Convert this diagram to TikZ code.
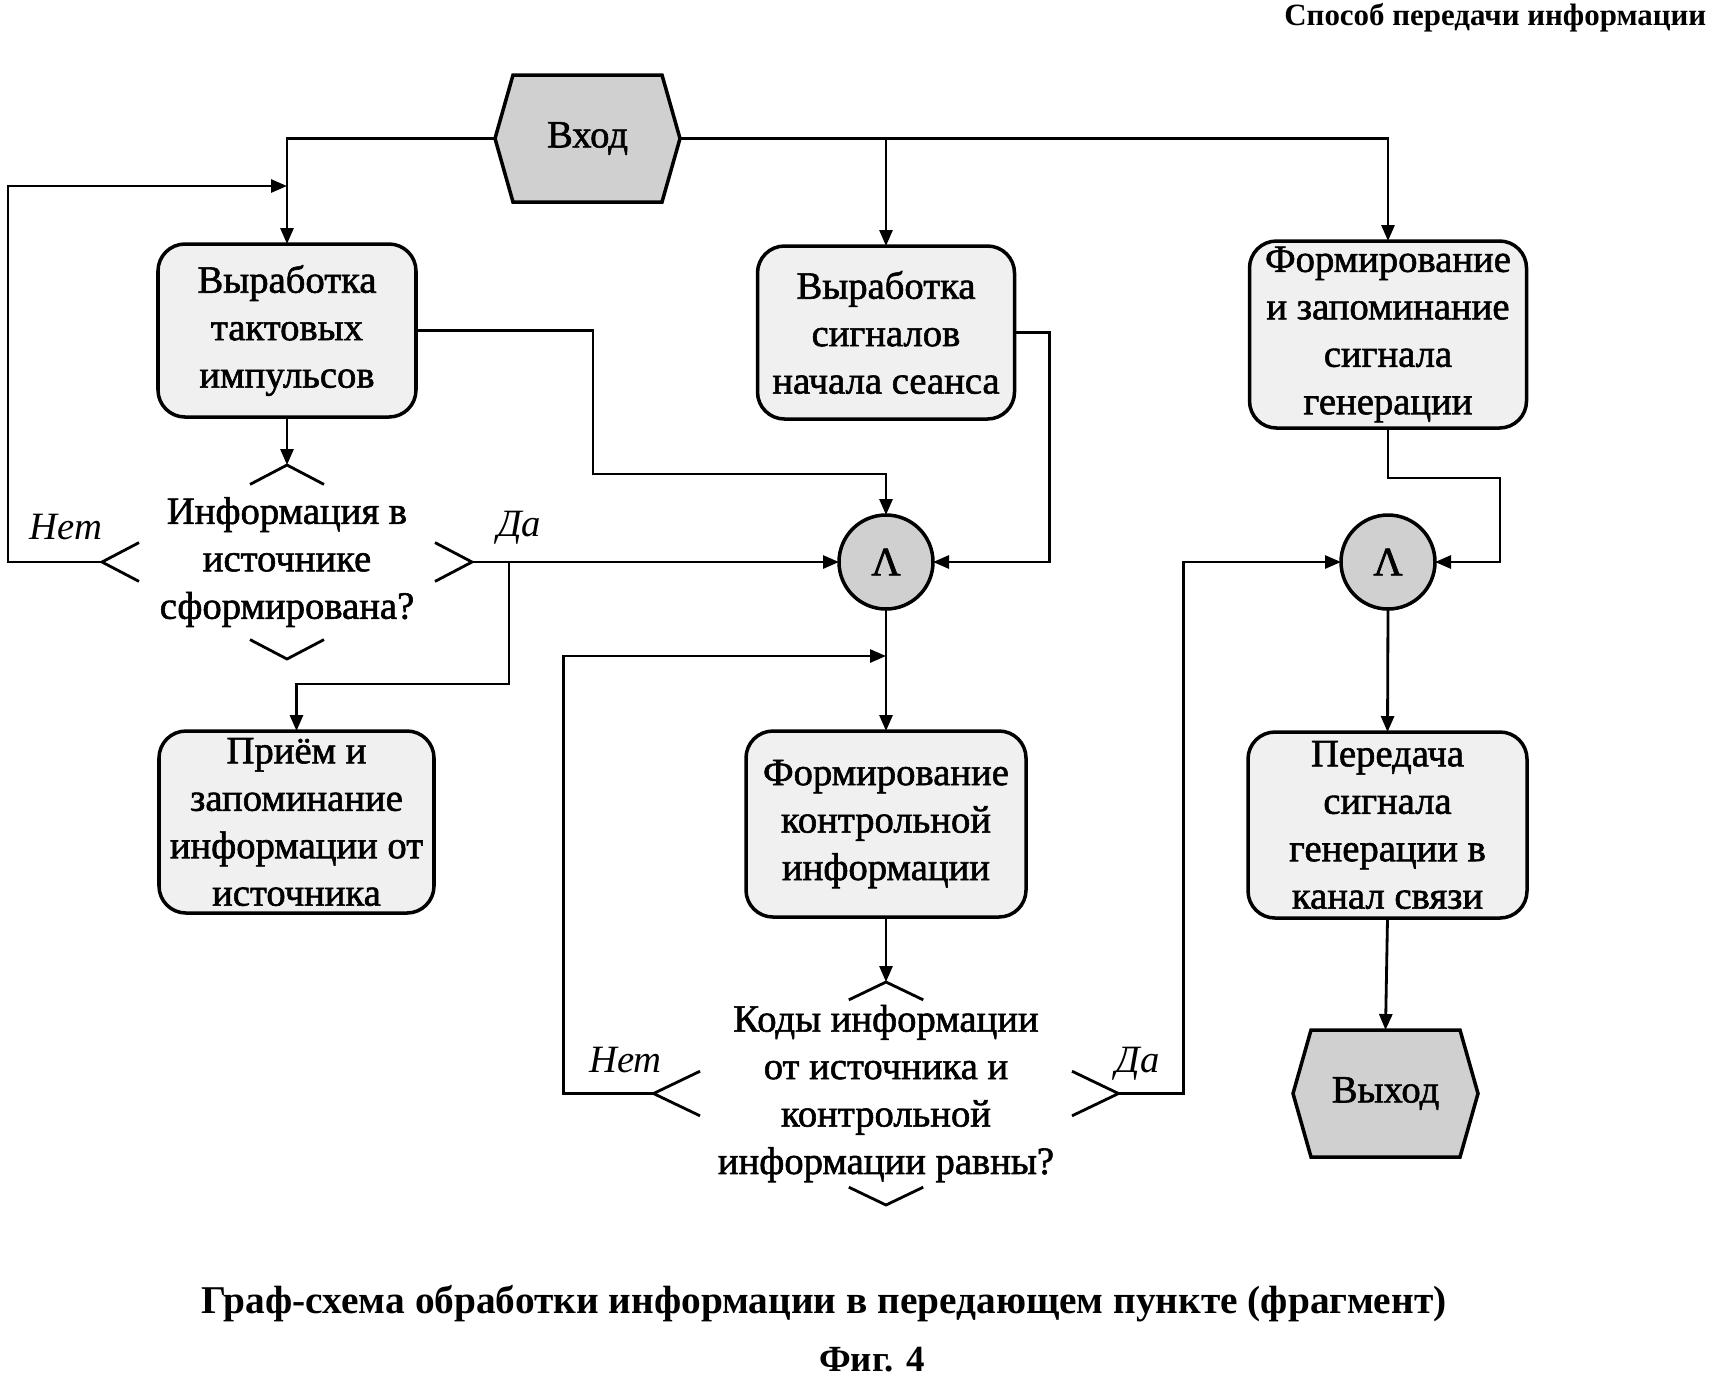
\documentclass[tikz,border=0pt]{standalone}
\usepackage{fontspec}
\setmainfont{Liberation Serif}
\newfontfamily\heavyserif{Liberation Serif}[FakeBold=1.5]
\usetikzlibrary{arrows.meta,calc,backgrounds}
\definecolor{boxgray}{RGB}{240,240,240}
\definecolor{termgray}{RGB}{208,208,208}

\tikzset{
  block/.style={draw, line width=1pt, rounded corners=0.27cm, fill=boxgray, align=center,
    inner sep=0pt, outer sep=0pt, font=\heavyserif\fontsize{11}{13.5}\selectfont},
  gate/.style={draw, circle, line width=1pt, fill=termgray, minimum size=0.94cm,
    inner sep=0pt, outer sep=0pt, font=\heavyserif\fontsize{11.5}{13}\selectfont},
  term/.style={minimum width=1.85cm, minimum height=1.27cm, inner sep=0pt, outer sep=0pt,
    font=\heavyserif\fontsize{11}{13}\selectfont},
  query/.style={align=center, inner sep=0pt, outer sep=0pt, font=\heavyserif\fontsize{11}{13.5}\selectfont},
  answer/.style={font=\itshape\fontsize{11}{13}\selectfont},
  link/.style={line width=0.8pt},
  arr/.style={line width=0.8pt, -{Triangle[length=1.6mm,width=1.3mm]}}
}

\begin{document}
\begin{tikzpicture}
\useasboundingbox (0,0) rectangle (17.15,-13.79);

\node[anchor=east, inner sep=0pt, font=\bfseries\fontsize{8.8}{10}\selectfont] (head) at (17.07,-0.18) {Способ передачи информации};

% terminals
\node[term] (in) at (5.875,-1.385) {Вход};
\node[term] (out) at (13.855,-10.935) {Выход};
\begin{scope}[on background layer]
  \foreach \t in {in,out}
    \draw[line width=1pt, fill=termgray] ($(\t.north west)+(0.18,0)$) -- ($(\t.north east)+(-0.18,0)$) -- (\t.east)
      -- ($(\t.south east)+(-0.18,0)$) -- ($(\t.south west)+(0.18,0)$) -- (\t.west) -- cycle;
\end{scope}

% blocks
\node[block, minimum width=2.58cm, minimum height=1.73cm] (b1) at (2.87,-3.305) {Выработка\\тактовых\\импульсов};
\node[block, minimum width=2.57cm, minimum height=1.73cm] (b2) at (8.86,-3.325) {Выработка\\сигналов\\начала сеанса};
\node[block, minimum width=2.77cm, minimum height=1.87cm] (b3) at (13.88,-3.345) {Формирование\\и запоминание\\сигнала\\генерации};
\node[block, minimum width=2.75cm, minimum height=1.82cm] (b4) at (2.965,-8.22) {Приём и\\запоминание\\информации от\\источника};
\node[block, minimum width=2.80cm, minimum height=1.86cm] (b5) at (8.86,-8.24) {Формирование\\контрольной\\информации};
\node[block, minimum width=2.79cm, minimum height=1.86cm] (b6) at (13.875,-8.25) {Передача\\сигнала\\генерации в\\канал связи};

% gates
\node[gate] (a1) at (8.86,-5.62) {Λ};
\node[gate] (a2) at (13.88,-5.62) {Λ};

% decisions
\node[query, minimum width=3.7cm, minimum height=1.94cm] (d1) at (2.87,-5.62) {Информация в\\источнике\\сформирована?};
\node[query, minimum width=4.65cm, minimum height=2.23cm] (d2) at (8.86,-10.935) {Коды информации\\от источника и\\контрольной\\информации равны?};
\foreach \q/\f in {d1/0.2,d2/0.16} {
  \draw[link] ($(\q.north)!\f!(\q.west)$) -- (\q.north) -- ($(\q.north)!\f!(\q.east)$);
  \draw[link] ($(\q.south)!\f!(\q.west)$) -- (\q.south) -- ($(\q.south)!\f!(\q.east)$);
  \draw[link] ($(\q.west)!0.2!(\q.north)$) -- (\q.west) -- ($(\q.west)!0.2!(\q.south)$);
  \draw[link] ($(\q.east)!0.2!(\q.north)$) -- (\q.east) -- ($(\q.east)!0.2!(\q.south)$);
}
\node[answer] (n1) at ($(d1.west)+(-0.36,0.35)$) {Нет};
\node[answer] (y1) at ($(d1.east)+(0.47,0.34)$) {Да};
\node[answer] (n2) at ($(d2.west)+(-0.28,0.33)$) {Нет};
\node[answer] (y2) at ($(d2.east)+(0.19,0.30)$) {Да};

% connectors
\coordinate (lx) at (0.08,0);
\coordinate (j1) at ($(b1.north)+(0,0.58)$);
\coordinate (j2) at ($(a1.south)+(0,-0.47)$);
\draw[arr] (in.west) -| (b1.north);
\draw[arr] (in.east) -| (b3.north);
\draw[arr] (in.east -| b2.north) -- (b2.north);
\draw[arr] (b1.south) -- (d1.north);
\draw[arr] (d1.west) -- (d1.west -| lx) |- (j1);
\draw[arr] (d1.east) -- (a1.west);
\draw[arr] ($(d1.east)+(0.37,0)$) |- ($(b4.north)+(0,0.47)$) -- (b4.north);
\draw[arr] (b1.east) -| (5.93,-4.74) -| (a1.north);
\draw[arr] (b2.east) -- ++(0.35,0) |- (a1.east);
\draw[arr] (a1.south) -- (b5.north);
\draw[arr] (b5.south) -- (d2.north);
\draw[arr] (d2.west) -- ++(-0.9,0) |- (j2);
\draw[arr] (d2.east) -- ++(0.65,0) |- (a2.west);
\draw[arr] (b3.south) -- ++(0,-0.5) -| ($(a2.east)+(0.65,0)$) -- (a2.east);
\draw[arr] (a2.south) -- (b6.north);
\draw[arr] (b6.south) -- (out.north);

% caption
\node[font=\bfseries\fontsize{11.2}{13}\selectfont] (cap) at (8.24,-13.04) {Граф-схема обработки информации в передающем пункте (фрагмент)};
\node[font=\bfseries\fontsize{10.5}{12}\selectfont] (fig) at (8.72,-13.60) {Фиг. 4};
\end{tikzpicture}
\end{document}
